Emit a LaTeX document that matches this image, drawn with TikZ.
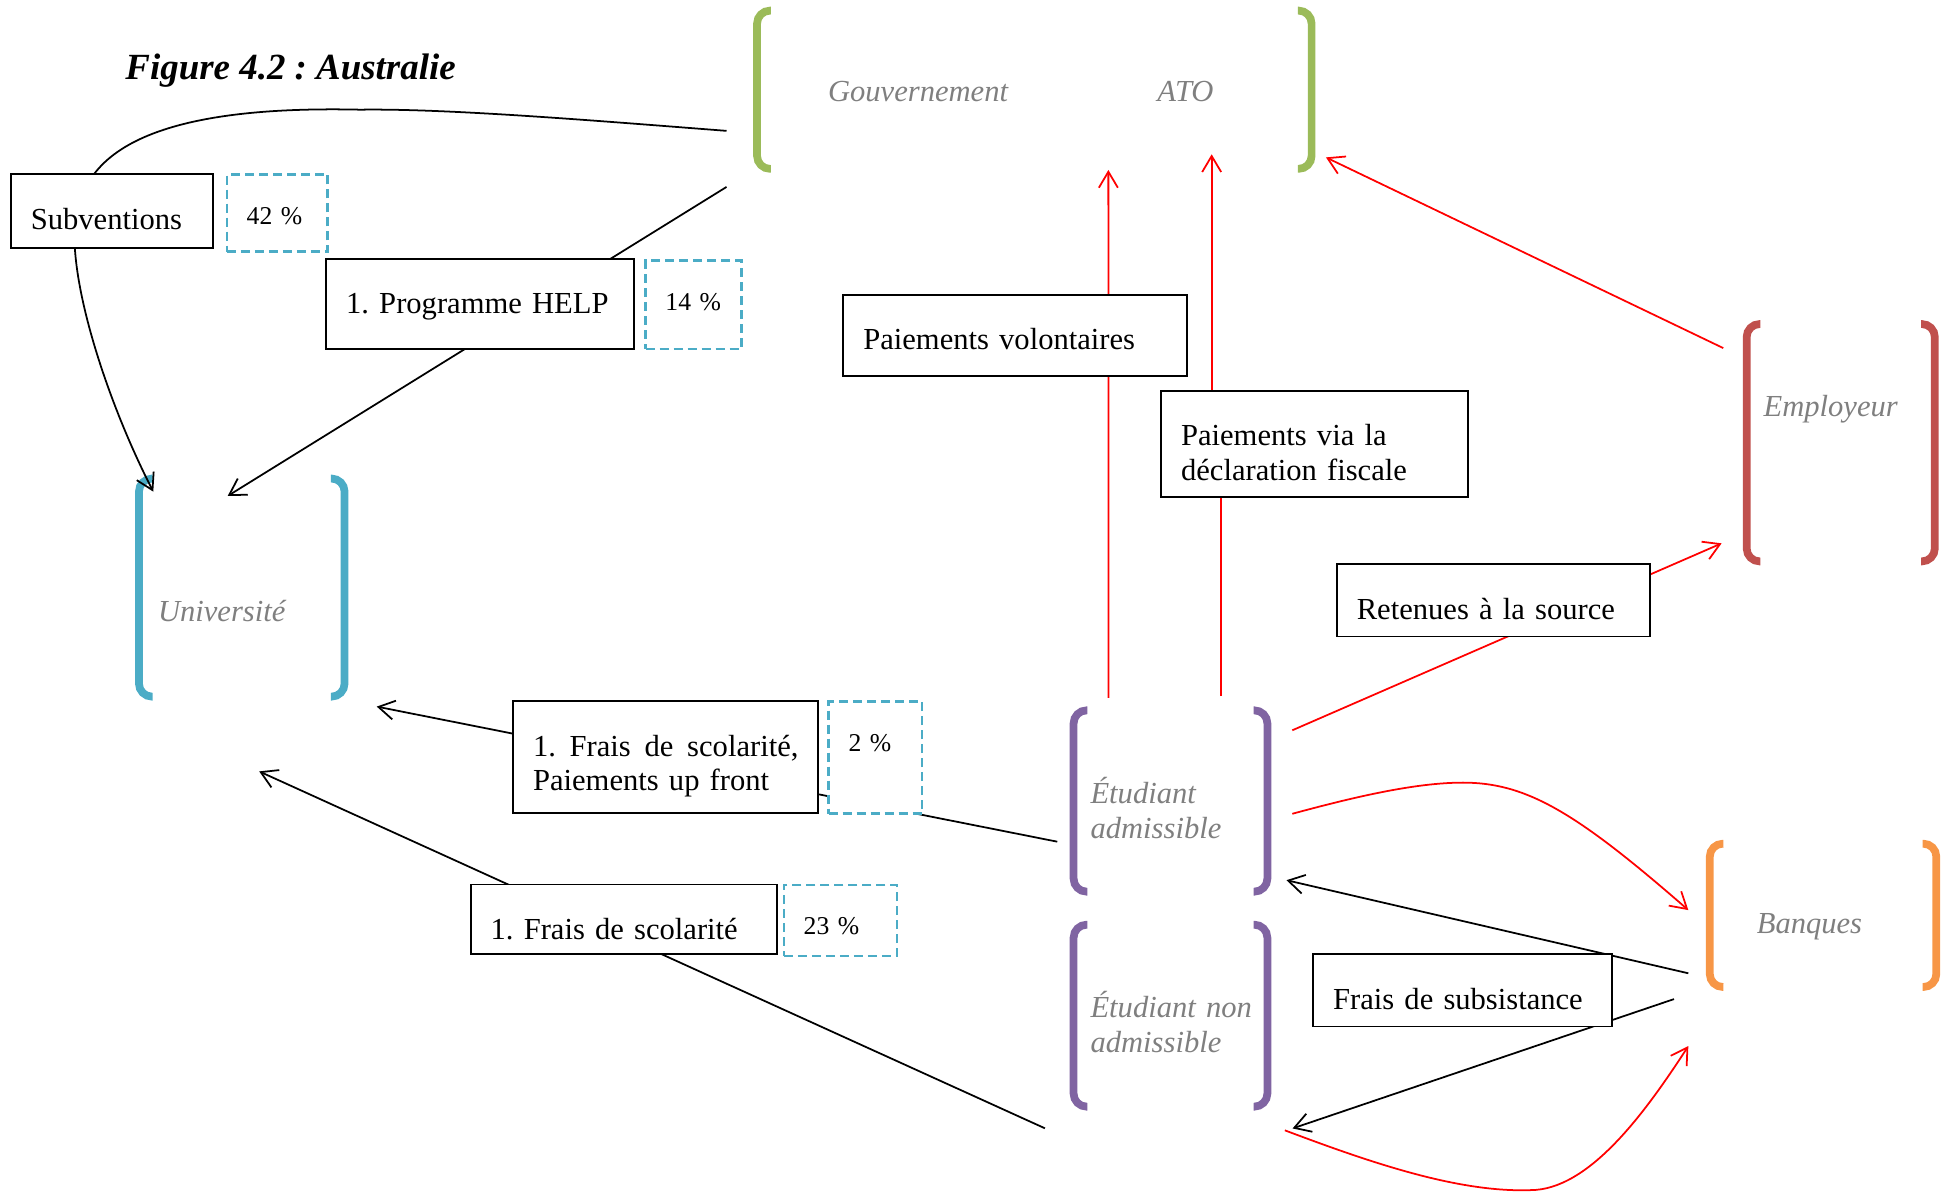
\documentclass[tikz,border=0pt]{standalone}
\usepackage{fontspec}
\setmainfont{Liberation Serif}
\usetikzlibrary{arrows.meta}
\definecolor{cvert}{HTML}{9BBB59}
\definecolor{crouge}{HTML}{C0504D}
\definecolor{cbleu}{HTML}{4BACC6}
\definecolor{cviolet}{HTML}{8064A2}
\definecolor{corange}{HTML}{F79646}
\definecolor{gristexte}{HTML}{7F7F7F}
\frenchspacing
% crochets: gauche x, haut y, droite x, bas y, couleur
\newcommand{\crochets}[5]{%
  \draw[#5,line width=2.2pt,rounded corners=1.3mm] (#1+11,#2) -- (#1,#2) -- (#1,#4) -- (#1+11,#4);
  \draw[#5,line width=2.2pt,rounded corners=1.3mm] (#3-11,#2) -- (#3,#2) -- (#3,#4) -- (#3-11,#4);}
\begin{document}
\begin{tikzpicture}[x=0.1246mm,y=-0.1246mm,line width=0.5pt,>={Straight Barb[length=1.6mm,width=1.9mm]},
	boite/.style={draw,fill=white,line width=0.55pt,anchor=north west,inner ysep=0pt,inner xsep=1.99mm,text height=5.48mm,align=left,font=\fontsize{8.7}{9.9}\selectfont},
	pct/.style={boite,draw=cbleu,line width=0.7pt,dash pattern=on 0.9mm off 0.5mm,text height=4.98mm,font=\fontsize{7.3}{8.7}\selectfont},
	entite/.style={inner sep=0pt,text=gristexte,font=\fontsize{8.7}{9.9}\selectfont\itshape}]
	\useasboundingbox (0,0) rectangle (1568,956);
	\node[anchor=base west,inner sep=0pt,font=\fontsize{10.5}{12}\selectfont\bfseries\itshape] (titre) at (100,64) {Figure 4.2 : Australie};
	% les acteurs
	\crochets{607.5}{8.5}{1052.5}{135.5}{cvert}
	\crochets{1401.6}{260}{1552.6}{450.5}{crouge}
	\crochets{111.5}{384}{276.5}{559}{cbleu}
	\crochets{861.5}{570}{1017}{715.5}{cviolet}
	\crochets{861.5}{742}{1017}{888}{cviolet}
	\crochets{1372}{677}{1553.8}{792}{corange}
	\node[entite,anchor=base] (gouv) at (736.7,81.6) {Gouvernement};
	\node[entite,anchor=base] (ato) at (951.3,81.6) {ATO};
	\node[entite,anchor=base] (empl) at (1469,334.3) {Employeur};
	\node[entite,anchor=base] (univ) at (177.9,498.9) {Université};
	\node[entite,anchor=base west,text width=20mm,align=left] (etadm) at (874.4,644.7) {Étudiant\\admissible};
	\node[entite,anchor=base west,text width=20mm,align=left] (etnon) at (874.4,816.5) {Étudiant non\\admissible};
	\node[entite,anchor=base] (banq) at (1452,749) {Banques};
	% bouts des fleches
	\coordinate (gov-a) at (583,105);
	\coordinate (gov-b) at (583,150);
	\coordinate (gov-s1) at (889.4,136.4);
	\coordinate (gov-s2) at (972.3,123.8);
	\coordinate (gov-e) at (1064,126.3);
	\coordinate (univ-a) at (123,394.5);
	\coordinate (univ-b) at (182.7,398);
	\coordinate (univ-c) at (302.3,567);
	\coordinate (univ-d) at (208,619);
	\coordinate (etadm-w) at (848.4,675.4);
	\coordinate (etadm-n1) at (889.5,560);
	\coordinate (etadm-n2) at (980,558.5);
	\coordinate (etadm-e1) at (1037,586);
	\coordinate (etadm-e2) at (1037,653);
	\coordinate (etadm-se) at (1032.3,706.3);
	\coordinate (etnon-w) at (838.5,905.4);
	\coordinate (etnon-e) at (1037.2,905.5);
	\coordinate (etnon-se) at (1031,907);
	\coordinate (empl-nw) at (1382.8,279.3);
	\coordinate (empl-sw) at (1381.5,436);
	\coordinate (banq-w1) at (1354.8,730.3);
	\coordinate (banq-w2) at (1354.8,781);
	\coordinate (banq-w3) at (1343.3,801.7);
	\coordinate (banq-w4) at (1354.8,839.4);
	% flux noirs
	\draw[->] (gov-a) .. controls (480,97) and (360,87) .. (289,88) .. controls (200,86) and (110,95) .. (76,139) .. controls (64,155) and (58,180) .. (60,198) .. controls (63,250) and (90,330) .. (univ-a);
	\draw[->] (gov-b) -- (univ-b);
	\draw[->] (etadm-w) -- (univ-c);
	\draw[->] (etnon-w) -- (univ-d);
	\draw[->] (banq-w2) -- (etadm-se);
	\draw[->] (banq-w3) -- (etnon-e);
	% flux rouges
	\draw[red,->] (etadm-n1) -- (gov-s1);
	\draw[red,->] (etadm-n2) -- ++(0,-200) -| (gov-s2);
	\draw[red,->] (etadm-e1) -- (empl-sw);
	\draw[red,->] (empl-nw) -- (gov-e);
	\draw[red,->] (etadm-e2) .. controls (1085,640) and (1135,628) .. (1174,628) .. controls (1225,628) and (1265,652) .. (banq-w1);
	\draw[red,->] (etnon-se) .. controls (1100,933) and (1170,957) .. (1228,955) .. controls (1275,955) and (1320,893) .. (banq-w4);
	% etiquettes
	\node[boite,text width=16.2mm,text depth=1.87mm] (subv) at (8,139) {Subventions};
	\node[pct,text width=6.1mm,text depth=2.74mm] (p42) at (181,139) {42~\%};
	\node[boite,text width=26.8mm,text depth=3.49mm] (help) at (261,207) {1. Programme HELP};
	\node[pct,text width=5.61mm,text depth=3.86mm] (p14) at (517,208) {14~\%};
	\node[boite,text width=30.4mm,text depth=2.62mm] (volont) at (676,236) {Paiements volontaires};
	\node[boite,text width=26.66mm,text depth=5.11mm] (decl) at (931,313) {Paiements via la\\déclaration fiscale};
	\node[boite,text width=27.29mm,text depth=1.74mm] (reten) at (1072,452) {Retenues à la source};
	\node[boite,text width=26.54mm,text depth=5.73mm] (upfront) at (411,562) {\noindent\hbox to \hsize{1.\hfill Frais\hfill de\hfill scolarité,}\\Paiements up front};
	\node[pct,text width=5.36mm,text depth=6.23mm] (p2) at (664,562) {2~\%};
	\node[boite,text width=26.66mm,text depth=1.49mm] (scol) at (377,709) {1. Frais de scolarité};
	\node[pct,text width=7.35mm,text depth=2.12mm] (p23) at (628,709) {23~\%};
	\node[boite,text width=25.92mm,text depth=1.74mm] (subsist) at (1053,765) {Frais de subsistance};
\end{tikzpicture}
\end{document}
